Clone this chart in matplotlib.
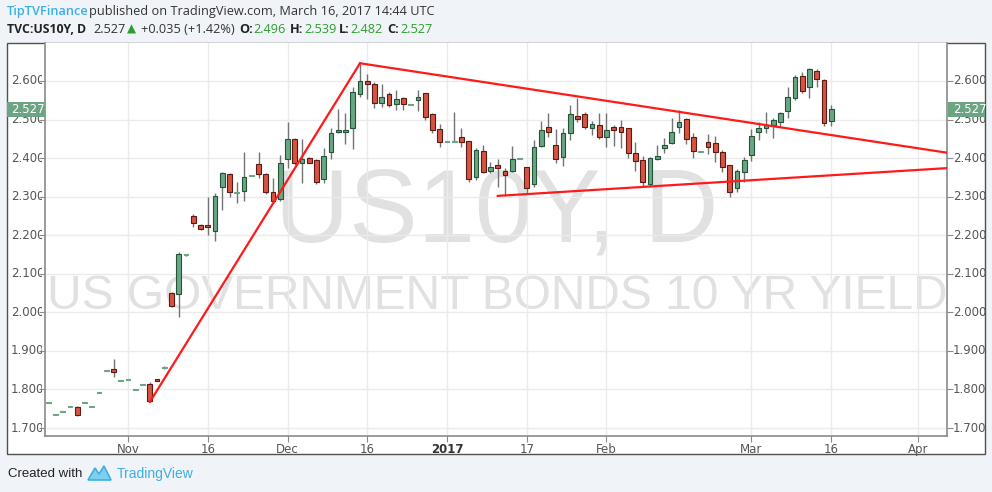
import matplotlib
matplotlib.use('Agg')
import matplotlib.pyplot as plt
import numpy as np
import pandas as pd
from matplotlib.transforms import blended_transform_factory, IdentityTransform, Bbox
from matplotlib.patches import Rectangle, Polygon

# ---------------- data (daily candles, weekdays from 2016-10-17) ----------------
start_date = '2016-10-17'
opens = [1.767, 1.734, 1.742, 1.755, 1.755, 1.765, 1.757, 1.791, 1.850, 1.853,
         1.822, 1.825, 1.801, 1.812, 1.814, 1.826, 1.856, 2.050, 2.048, 2.150,
         2.250, 2.227, 2.227, 2.211, 2.325, 2.359, 2.309, 2.315, 2.353, 2.385,
         2.359, 2.312, 2.294, 2.398, 2.450, 2.387, 2.400, 2.395, 2.346, 2.416,
         2.468, 2.468, 2.478, 2.566, 2.600, 2.592, 2.543, 2.566, 2.540, 2.556,
         2.539, 2.551, 2.569, 2.514, 2.476, 2.443, 2.443, 2.455, 2.444, 2.351,
         2.418, 2.367, 2.382, 2.367, 2.367, 2.397, 2.377, 2.333, 2.431, 2.481,
         2.434, 2.403, 2.465, 2.509, 2.514, 2.478, 2.486, 2.455, 2.481, 2.481,
         2.478, 2.413, 2.395, 2.333, 2.398, 2.426, 2.439, 2.481, 2.501, 2.455,
         2.417, 2.442, 2.440, 2.416, 2.382, 2.322, 2.364, 2.408, 2.468, 2.478,
         2.486, 2.494, 2.522, 2.556, 2.613, 2.584, 2.626, 2.603, 2.496]
highs = [1.767, 1.734, 1.742, 1.755, 1.757, 1.765, 1.757, 1.791, 1.850, 1.879,
         1.822, 1.825, 1.801, 1.812, 1.819, 1.826, 1.862, 2.053, 2.157, 2.152,
         2.255, 2.229, 2.299, 2.310, 2.364, 2.361, 2.338, 2.416, 2.355, 2.416,
         2.361, 2.348, 2.408, 2.494, 2.452, 2.450, 2.403, 2.397, 2.426, 2.478,
         2.527, 2.517, 2.584, 2.644, 2.618, 2.597, 2.592, 2.571, 2.577, 2.558,
         2.541, 2.577, 2.569, 2.517, 2.488, 2.445, 2.520, 2.478, 2.444, 2.426,
         2.434, 2.390, 2.398, 2.374, 2.431, 2.399, 2.377, 2.447, 2.496, 2.517,
         2.476, 2.478, 2.538, 2.556, 2.520, 2.496, 2.517, 2.517, 2.486, 2.499,
         2.478, 2.442, 2.405, 2.403, 2.434, 2.452, 2.504, 2.525, 2.504, 2.465,
         2.419, 2.463, 2.457, 2.421, 2.382, 2.372, 2.403, 2.476, 2.494, 2.520,
         2.504, 2.520, 2.584, 2.616, 2.623, 2.634, 2.631, 2.605, 2.539]
lows = [1.767, 1.734, 1.742, 1.755, 1.732, 1.765, 1.757, 1.791, 1.850, 1.832,
        1.822, 1.825, 1.801, 1.812, 1.767, 1.823, 1.854, 2.013, 1.988, 2.145,
        2.221, 2.214, 2.201, 2.185, 2.265, 2.299, 2.284, 2.289, 2.353, 2.348,
        2.307, 2.284, 2.289, 2.374, 2.382, 2.335, 2.387, 2.333, 2.335, 2.398,
        2.465, 2.437, 2.424, 2.558, 2.553, 2.530, 2.533, 2.533, 2.525, 2.525,
        2.539, 2.522, 2.499, 2.465, 2.429, 2.443, 2.443, 2.429, 2.338, 2.343,
        2.361, 2.361, 2.325, 2.302, 2.364, 2.397, 2.310, 2.325, 2.429, 2.455,
        2.387, 2.380, 2.447, 2.494, 2.476, 2.460, 2.450, 2.429, 2.431, 2.426,
        2.400, 2.367, 2.325, 2.325, 2.395, 2.413, 2.437, 2.465, 2.437, 2.400,
        2.417, 2.411, 2.390, 2.364, 2.299, 2.312, 2.338, 2.393, 2.447, 2.466,
        2.452, 2.481, 2.504, 2.551, 2.569, 2.556, 2.584, 2.483, 2.482]
closes = [1.767, 1.734, 1.742, 1.755, 1.734, 1.765, 1.757, 1.791, 1.850, 1.845,
          1.822, 1.825, 1.801, 1.812, 1.770, 1.823, 1.858, 2.017, 2.151, 2.152,
          2.232, 2.216, 2.221, 2.302, 2.361, 2.312, 2.311, 2.351, 2.355, 2.359,
          2.312, 2.289, 2.387, 2.450, 2.387, 2.398, 2.387, 2.338, 2.405, 2.465,
          2.473, 2.473, 2.571, 2.600, 2.592, 2.543, 2.558, 2.538, 2.553, 2.540,
          2.541, 2.558, 2.507, 2.473, 2.442, 2.445, 2.445, 2.442, 2.346, 2.421,
          2.364, 2.377, 2.374, 2.356, 2.398, 2.399, 2.322, 2.429, 2.473, 2.468,
          2.398, 2.465, 2.514, 2.501, 2.481, 2.488, 2.455, 2.473, 2.473, 2.468,
          2.413, 2.393, 2.338, 2.400, 2.405, 2.434, 2.468, 2.494, 2.450, 2.418,
          2.419, 2.429, 2.416, 2.377, 2.312, 2.367, 2.395, 2.457, 2.478, 2.486,
          2.499, 2.517, 2.558, 2.610, 2.574, 2.631, 2.605, 2.491, 2.527]

tick_dates = ['2016-11-01', '2016-11-16', '2016-12-01', '2016-12-16', '2017-01-02',
              '2017-01-17', '2017-02-01', '2017-03-01', '2017-03-16', '2017-04-03']
tick_labels = ['Nov', '16', 'Dec', '16', '2017', '17', 'Feb', 'Mar', '16', 'Apr']
y_ticks = [1.7, 1.8, 1.9, 2.0, 2.1, 2.2, 2.3, 2.4, 2.5, 2.6]

# trend lines
trend_a = (['2016-11-04', '2016-12-15'], [1.767, 2.646])
trend_b_start = ('2016-12-15', 2.646)
trend_b_end_value = 2.414
trend_c_start = ('2017-01-11', 2.302)
trend_c_end_value = 2.374
last_price = 2.527

# ---------------- figure ----------------
W, H = 992, 492
fig = plt.figure(figsize=(W / 100, H / 100), dpi=100, facecolor='#f0f3f7')

frame = Rectangle((6.5 / W, 1 - 454 / H), (985 - 6.5) / W, (454 - 43) / H,
                  transform=fig.transFigure, facecolor='white', edgecolor='#505050',
                  lw=1.0, zorder=-5)
fig.patches.append(frame)

ax = fig.add_axes([45 / W, 1 - 436 / H, (947 - 45) / W, (436 - 43) / H])
ax.set_zorder(1)
ax.set_facecolor('white')

days = pd.bdate_range(start_date, '2017-05-31')
n = len(opens)
x = np.arange(n)
o = np.array(opens); h = np.array(highs); l = np.array(lows); c = np.array(closes)

x_left, x_right = -0.45, 123.97
ax.set_xlim(x_left, x_right)
ax.set_ylim(1.6793, 2.6985)

# watermark
ax.text(0.501, 0.562, 'US10Y, D', transform=ax.transAxes, ha='center', va='center',
        fontsize=74, color='#e1e1e1', family='Liberation Sans', zorder=0.5)
ax.text(0.501, 0.354, 'US GOVERNMENT BONDS 10 YR YIELD', transform=ax.transAxes,
        ha='center', va='center', fontsize=34.5, color='#e1e1e1',
        family='Liberation Sans', zorder=0.5)

up = c >= o
up_fc, up_ec = '#6ba583', '#225437'
dn_fc, dn_ec = '#d75442', '#5b1a13'
wick = '#737375'

ax.vlines(x, l, h, color=wick, lw=1.0, zorder=2)
bottoms = np.minimum(o, c)
heights = np.abs(c - o)
flat = heights < 0.0025
fcs = np.where(up, up_fc, dn_fc)
ecs = np.where(up, up_ec, dn_ec)
ecs = np.where(flat, fcs, ecs)
heights = np.where(flat, 0.0025, heights)
bottoms = np.where(flat, (o + c) / 2 - 0.00125, bottoms)
ax.bar(x, heights, bottom=bottoms, width=0.66, color=fcs, edgecolor=ecs,
       linewidth=0.8, zorder=3)

# trend lines
xa = [days.get_loc(pd.Timestamp(d)) for d in trend_a[0]]
ax.plot(xa, trend_a[1], color='#ff1a1a', lw=1.6, zorder=4, solid_capstyle='round')
xb0 = days.get_loc(pd.Timestamp(trend_b_start[0]))
ax.plot([xb0, x_right], [trend_b_start[1], trend_b_end_value], color='#ff1a1a',
        lw=1.6, zorder=4)
xc0 = days.get_loc(pd.Timestamp(trend_c_start[0]))
ax.plot([xc0, x_right], [trend_c_start[1], trend_c_end_value], color='#ff1a1a',
        lw=1.6, zorder=4)

# axes styling
for side in ['left', 'right', 'bottom']:
    ax.spines[side].set_color('#8a8a8a')
    ax.spines[side].set_linewidth(1.2)
ax.spines['top'].set_visible(False)

xt = [days.get_loc(pd.Timestamp(d)) for d in tick_dates]
ax.set_xticks(xt)
ax.set_xticklabels(tick_labels)
for lbl, s in zip(ax.get_xticklabels(), tick_labels):
    lbl.set_fontsize(8.5)
    lbl.set_color('#555555')
    if s == '2017':
        lbl.set_fontweight('bold')
        lbl.set_color('#333333')
ax.set_yticks(y_ticks)
ax.tick_params(axis='x', length=4, color='#8a8a8a', pad=1)
ax.tick_params(axis='y', left=True, right=True, labelleft=False, labelright=False,
               length=4, color='#8a8a8a', direction='out')
ax.grid(True, color='#ebebeb', lw=1.0, zorder=0)
ax.set_axisbelow(True)

ytrans = blended_transform_factory(IdentityTransform(), ax.transData)
for v in y_ticks:
    t1 = fig.text(11, v, f'{v:.3f}', transform=ytrans, ha='left', va='center',
                  fontsize=8.5, color='#555555', family='DejaVu Sans', zorder=3)
    t1.set_clip_box(Bbox.from_extents(7, 0, 42, H)); t1.set_clip_on(True)
    t2 = fig.text(953, v, f'{v:.3f}', transform=ytrans, ha='left', va='center',
                  fontsize=8.5, color='#555555', family='DejaVu Sans', zorder=3)
    t2.set_clip_box(Bbox.from_extents(950, 0, 985, H)); t2.set_clip_on(True)

# last price labels
for x0, x1, tx in [(7, 45, 11), (948, 985, 953)]:
    yc = ytrans.transform((0, last_price))[1]
    r = Rectangle((x0, yc - 7.5), x1 - x0, 15, transform=IdentityTransform(),
                  facecolor='#6ba583', edgecolor='none', zorder=5)
    fig.patches.append(r)
    fig.text(tx, last_price, f'{last_price:.3f}', transform=ytrans, ha='left',
             va='center', fontsize=8.5, color='white', family='DejaVu Sans', zorder=6)

# header
def ftext(xp, yp, s, **kw):
    kw.setdefault('family', ['Open Sans', 'DejaVu Sans'])
    kw.setdefault('va', 'center')
    kw.setdefault('ha', 'left')
    return fig.text(xp / W, 1 - yp / H, s, **kw)

fs = 9.2
ftext(7, 12, 'TipTVFinance', fontsize=fs, color='#3bb0e6', fontweight='semibold')
ftext(89, 12, 'published on TradingView.com, March 16, 2017 14:44 UTC', fontsize=fs,
      color='#333333')
green = '#2e9d2e'
ftext(7, 29.5, 'TVC:US10Y, D', fontsize=fs - 0.4, color='#222222', fontweight='bold')
ftext(93, 29.5, '2.527', fontsize=fs, color='#333333')
ftext(127, 29.5, '▲', fontsize=8.5, color=green, family=['DejaVu Sans'])
ftext(141, 29.5, '+0.035 (+1.42%)', fontsize=fs, color='#333333')
ftext(239, 29.5, 'O:', fontsize=fs, color='#222222', fontweight='bold')
ftext(253, 29.5, '2.496', fontsize=fs, color=green)
ftext(290, 29.5, 'H:', fontsize=fs, color='#222222', fontweight='bold')
ftext(304, 29.5, '2.539', fontsize=fs, color=green)
ftext(339, 29.5, 'L:', fontsize=fs, color='#222222', fontweight='bold')
ftext(350, 29.5, '2.482', fontsize=fs, color=green)
ftext(387, 29.5, 'C:', fontsize=fs, color='#222222', fontweight='bold')
ftext(400, 29.5, '2.527', fontsize=fs, color=green)

# footer
ftext(8, 474, 'Created with', fontsize=9.5, color='#222222',
      family=['Liberation Sans Narrow', 'Liberation Sans'])
logo = Polygon([(88 / W, 1 - 480 / H), (95 / W, 1 - 468 / H), (99 / W, 1 - 474 / H),
                (104 / W, 1 - 466 / H), (111 / W, 1 - 480 / H)], closed=True,
               transform=fig.transFigure, facecolor='#7fd0f0', edgecolor='#3bb0e6',
               lw=1.2)
fig.patches.append(logo)
ftext(117, 474, 'TradingView', fontsize=10, color='#3bb0e6',
      family=['Liberation Sans Narrow', 'Liberation Sans'])

fig.savefig('out.png', dpi=100, facecolor=fig.get_facecolor())
